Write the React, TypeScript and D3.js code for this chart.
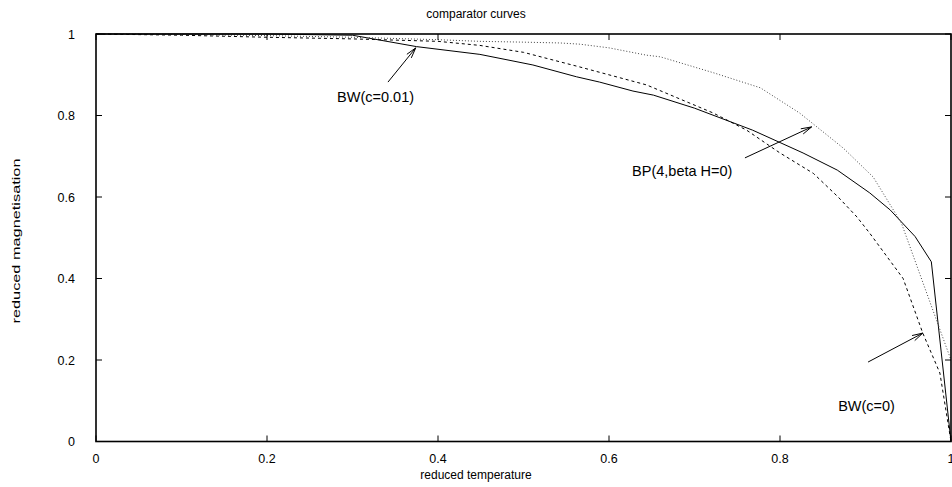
import React from "react";
import * as d3 from "d3";

const title = "comparator curves";
const xLabel = "reduced temperature";
const yLabel = "reduced magnetisation";

const xTicks = [0, 0.2, 0.4, 0.6, 0.8, 1];
const yTicks = [0, 0.2, 0.4, 0.6, 0.8, 1];

// BW(c=0.01) - solid
const bw001X = [0, 0.1, 0.2, 0.3, 0.375, 0.449, 0.511, 0.562, 0.589, 0.628, 0.652, 0.7, 0.768, 0.827, 0.867, 0.905, 0.929, 0.958, 0.977, 1.0];
const bw001Y = [1, 1, 1, 0.997, 0.969, 0.95, 0.924, 0.895, 0.882, 0.86, 0.85, 0.818, 0.764, 0.708, 0.666, 0.61, 0.568, 0.503, 0.441, 0.0];

// BW(c=0) - dashed
const bw0X = [0, 0.1, 0.2, 0.3, 0.4, 0.449, 0.5, 0.566, 0.644, 0.722, 0.761, 0.8, 0.839, 0.868, 0.89, 0.905, 0.944, 0.967, 0.987, 1.0];
const bw0Y = [1, 0.997, 0.992, 0.988, 0.982, 0.972, 0.955, 0.919, 0.875, 0.806, 0.764, 0.708, 0.658, 0.6, 0.551, 0.511, 0.4, 0.266, 0.168, 0.0];

// BP(4, beta H=0) - dotted
const bpX = [0, 0.1, 0.2, 0.3, 0.4, 0.449, 0.5, 0.543, 0.566, 0.6, 0.644, 0.66, 0.722, 0.777, 0.823, 0.874, 0.909, 0.942, 0.983, 1.0];
const bpY = [1, 0.999, 0.996, 0.992, 0.986, 0.982, 0.98, 0.978, 0.975, 0.966, 0.948, 0.944, 0.905, 0.868, 0.806, 0.72, 0.649, 0.536, 0.298, 0.2];

// annotations: label, label position (data), arrow tail, arrow head
const annLabels = ["BW(c=0.01)", "BP(4,beta H=0)", "BW(c=0)"];
const annLabelX = [0.282, 0.627, 0.868];
const annLabelY = [0.834, 0.651, 0.074];
const arrowFromX = [0.3415, 0.759, 0.903];
const arrowFromY = [0.882, 0.696, 0.195];
const arrowToX = [0.374, 0.837, 0.967];
const arrowToY = [0.966, 0.772, 0.266];

const W = 952;
const H = 487;
const font = "'Liberation Sans', Arial, Helvetica, sans-serif";

export default function App() {
  const x = d3.scaleLinear().domain([0, 1]).range([96, 951]);
  const y = d3.scaleLinear().domain([0, 1]).range([441.5, 34]);
  const line = d3
    .line<[number, number]>()
    .x((d) => x(d[0]))
    .y((d) => y(d[1]));
  const zip = (xs: number[], ys: number[]) => xs.map((v, i) => [v, ys[i]] as [number, number]);
  const fmt = (v: number) => (v === 0 ? "0" : v === 1 ? "1" : d3.format(".1f")(v));
  const tl = 6;

  const arrowHead = (i: number) => {
    const x1 = x(arrowFromX[i]);
    const y1 = y(arrowFromY[i]);
    const x2 = x(arrowToX[i]);
    const y2 = y(arrowToY[i]);
    const ang = Math.atan2(y2 - y1, x2 - x1);
    const L = 11;
    const a = (15 * Math.PI) / 180;
    const p1 = [x2 - L * Math.cos(ang - a), y2 - L * Math.sin(ang - a)];
    const p2 = [x2 - L * Math.cos(ang + a), y2 - L * Math.sin(ang + a)];
    return `M${p1[0]},${p1[1]}L${x2},${y2}L${p2[0]},${p2[1]}`;
  };

  return (
    <svg
      width={W}
      height={H}
      style={{ position: "absolute", left: 0, top: 0, background: "#fff" }}
      fontFamily={font}
    >
      <rect x={0} y={0} width={W} height={H} fill="#fff" />
      {/* curves */}
      <path d={line(zip(bw001X, bw001Y)) || ""} fill="none" stroke="#000" strokeWidth={1} />
      <path d={line(zip(bw0X, bw0Y)) || ""} fill="none" stroke="#000" strokeWidth={1} strokeDasharray="3,3" />
      <path d={line(zip(bpX, bpY)) || ""} fill="none" stroke="#444" strokeWidth={1} strokeDasharray="1,2" />

      {/* frame */}
      <rect x={x(0)} y={y(1)} width={x(1) - x(0)} height={y(0) - y(1)} fill="none" stroke="#000" strokeWidth={1.6} />

      {/* x ticks */}
      {xTicks.map((t) => (
        <g key={"xt" + t}>
          <line x1={x(t)} x2={x(t)} y1={y(0)} y2={y(0) - tl} stroke="#000" strokeWidth={1} />
          <line x1={x(t)} x2={x(t)} y1={y(1)} y2={y(1) + tl} stroke="#000" strokeWidth={1} />
          <text x={x(t)} y={y(0) + 21} textAnchor="middle" fontSize={12.5}>
            {fmt(t)}
          </text>
        </g>
      ))}
      {/* y ticks */}
      {yTicks.map((t) => (
        <g key={"yt" + t}>
          <line x1={x(0)} x2={x(0) + tl} y1={y(t)} y2={y(t)} stroke="#000" strokeWidth={1} />
          <line x1={x(1)} x2={x(1) - tl} y1={y(t)} y2={y(t)} stroke="#000" strokeWidth={1} />
          <text x={x(0) - 21} y={y(t) + 4.5} textAnchor="end" fontSize={12.5}>
            {fmt(t)}
          </text>
        </g>
      ))}

      {/* annotations */}
      {annLabels.map((lab, i) => (
        <g key={lab}>
          <line
            x1={x(arrowFromX[i])}
            y1={y(arrowFromY[i])}
            x2={x(arrowToX[i])}
            y2={y(arrowToY[i])}
            stroke="#000"
            strokeWidth={1}
          />
          <path d={arrowHead(i)} fill="none" stroke="#000" strokeWidth={1} />
          <text x={x(annLabelX[i])} y={y(annLabelY[i])} fontSize={14.5}>
            {lab}
          </text>
        </g>
      ))}

      {/* titles */}
      <text x={476} y={18} textAnchor="middle" fontSize={12}>
        {title}
      </text>
      <text x={476} y={479} textAnchor="middle" fontSize={12}>
        {xLabel}
      </text>
      <text
        transform="translate(20,241) rotate(-90)"
        textAnchor="middle"
        fontSize={11.5}
        textLength={165}
        lengthAdjust="spacingAndGlyphs"
      >
        {yLabel}
      </text>
    </svg>
  );
}
